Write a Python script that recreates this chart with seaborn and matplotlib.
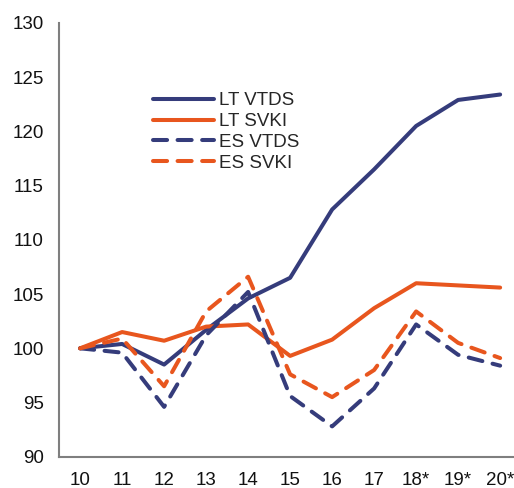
import matplotlib
matplotlib.use("Agg")
import matplotlib.pyplot as plt
import pandas as pd
import seaborn as sns

sns.set_style("white")
plt.rcParams['font.family'] = ['Liberation Sans', 'DejaVu Sans']
fontsize = 13.5
plt.rcParams['font.size'] = fontsize

years = ['10', '11', '12', '13', '14', '15', '16', '17', '18*', '19*', '20*']
lt_vtds = [100, 100.4, 98.5, 101.7, 104.6, 106.5, 112.8, 116.5, 120.5, 122.9, 123.4]
lt_svki = [100, 101.5, 100.7, 102.0, 102.2, 99.3, 100.8, 103.7, 106.0, 105.8, 105.6]
es_vtds = [100, 99.6, 94.6, 101.2, 105.2, 95.6, 92.8, 96.3, 102.2, 99.4, 98.4]
es_svki = [100, 100.9, 96.5, 103.4, 106.6, 97.6, 95.5, 98.0, 103.4, 100.5, 99.1]

navy = '#353C7B'
orange = '#E8561E'
series = [
    ("LT VTDS", lt_vtds, navy, '-'),
    ("LT SVKI", lt_svki, orange, '-'),
    ("ES VTDS", es_vtds, navy, (0, (3.5, 2.6))),
    ("ES SVKI", es_svki, orange, (0, (3.5, 2.6))),
]

fig = plt.figure(figsize=(5.14, 4.88), dpi=100)
ax = fig.add_axes([0.115, 0.064, 0.885, 0.889])

for name, vals, col, ls in series:
    df = pd.DataFrame({"x": range(len(years)), "y": vals})
    sns.lineplot(data=df, x="x", y="y", ax=ax, color=col, linestyle=ls,
                 linewidth=2.9, label=name, solid_capstyle='round',
                 dash_capstyle='round')

ax.set_xlim(-0.5, 10.33)
ax.set_ylim(90, 130)
ax.set_yticks(range(90, 131, 5))
ax.set_xticks(range(len(years)))
ax.set_xticklabels(years)
ax.set_xlabel("")
ax.set_ylabel("")
ax.tick_params(axis='both', length=0, labelsize=fontsize, colors='#111111')
ax.tick_params(axis='x', pad=11)
ax.tick_params(axis='y', pad=11)
for s in ['top', 'right']:
    ax.spines[s].set_visible(False)
for s in ['left', 'bottom']:
    ax.spines[s].set_color('#7f7f7f')
    ax.spines[s].set_linewidth(1.5)

ax.legend(loc='upper left', bbox_to_anchor=(0.186, 0.862), frameon=False,
          handlelength=3.25, labelspacing=0.2, handletextpad=0.27,
          fontsize=fontsize, borderpad=0)

fig.savefig("out.png", dpi=100)
